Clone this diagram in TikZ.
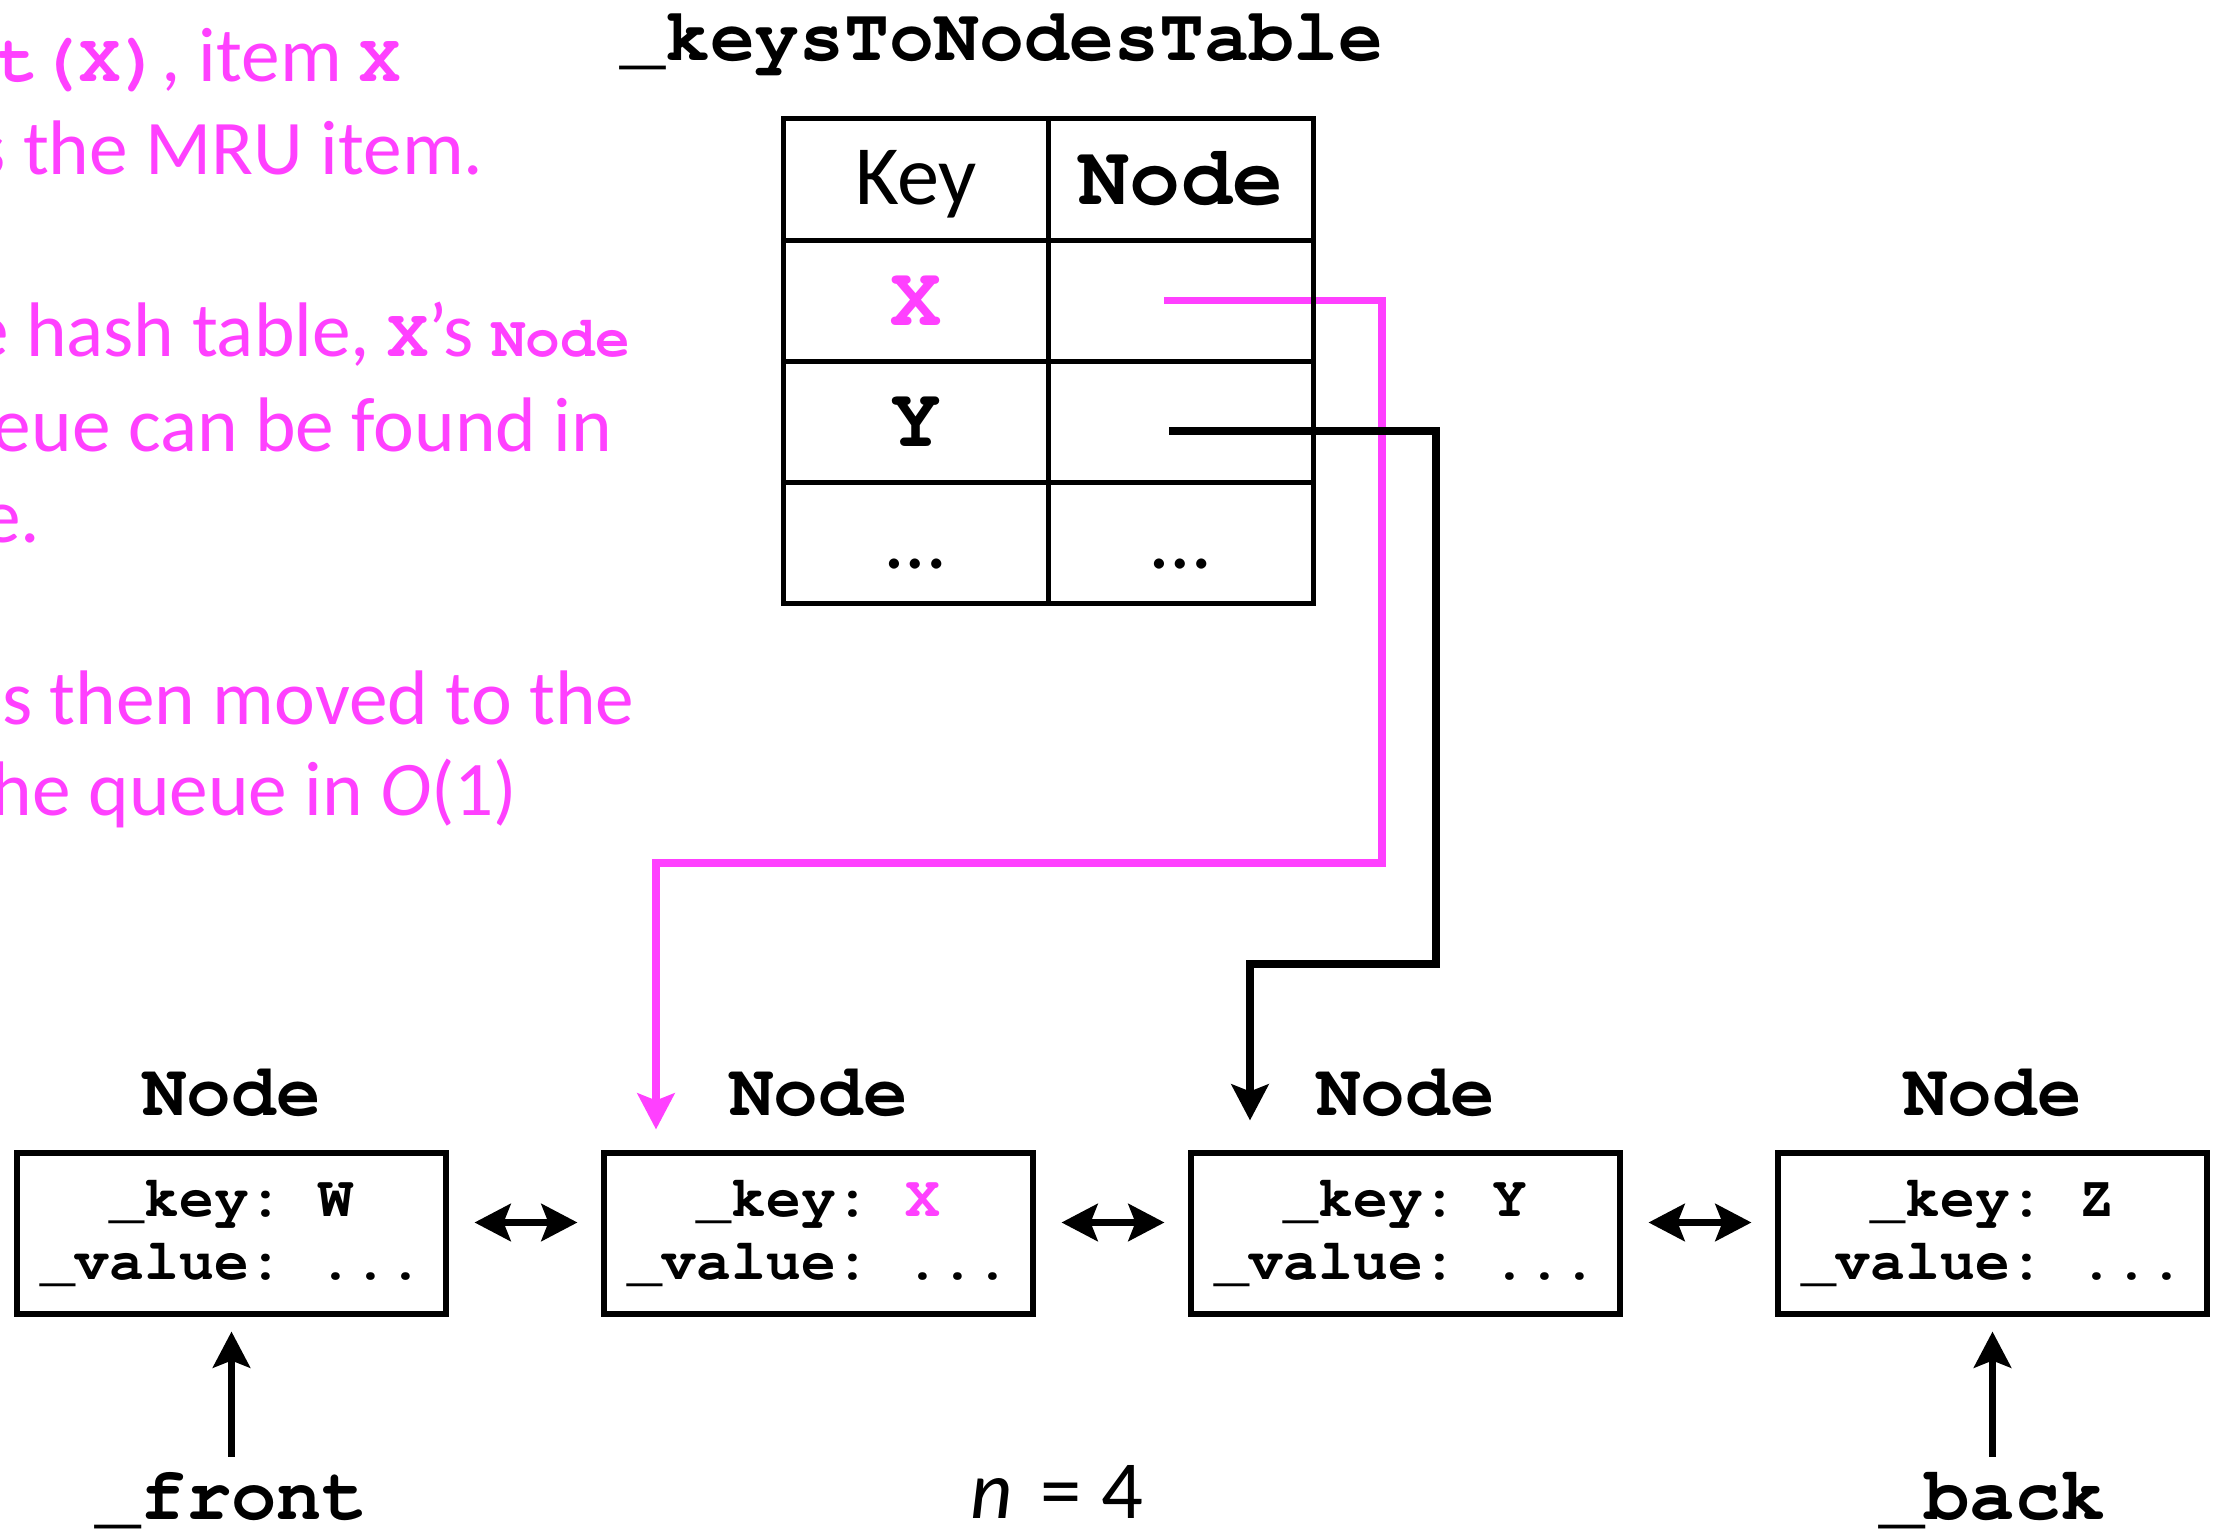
\documentclass[tikz,border=0pt]{standalone}
\usepackage[T1]{fontenc}
\usepackage{fontspec}
\setmainfont{Carlito}
\usetikzlibrary{arrows.meta,positioning,backgrounds}
\definecolor{mru}{RGB}{255,64,255}
\newcommand{\cour}{\fontencoding{T1}\fontfamily{pcr}\fontseries{b}\selectfont}
\newcommand{\code}[1]{{\fontsize{19.5}{22}\cour #1}}
\newcommand{\codesm}[1]{{\fontsize{16.5}{20}\cour #1}}

\begin{document}
\begin{tikzpicture}[
  >={Stealth[length=0.36cm,width=0.37cm,inset=0.07cm]},
  note/.style={text=mru, anchor=base east, inner sep=0, font=\fontsize{22}{26}\selectfont},
  cell/.style={draw, line width=1.4pt, minimum width=2.65cm, minimum height=1.2125cm, text height=0.5cm, text depth=0cm, inner sep=0},
  big/.style={font=\fontsize{24.2}{28}\cour},
  qbox/.style={draw, line width=1.45pt, minimum width=4.29cm, minimum height=1.61cm, align=center, inner sep=0, font=\fontsize{16.5}{17.9}\cour\frenchspacing},
  qhead/.style={inner sep=0, font=\fontsize{21.2}{24}\cour},
  qlabel/.style={anchor=base, inner sep=0, font=\fontsize{21.5}{24}\cour},
  ptr/.style={line width=2.1pt, ->},
  dbl/.style={line width=2pt, <->, shorten <=0.26cm, shorten >=0.24cm}
]
\useasboundingbox (0,0) rectangle (22.13,-15.39);

\node[note] (t1) at (4.01,-0.82) {\code{get(X)}, item \code{X}};
\node[note] (t2) at (4.84,-1.75) {is the MRU item.};
\node[note] (t3) at (6.31,-3.57) {the hash table, \code{X}’s \codesm{Node}};
\node[note] (t4) at (6.13,-4.52) {queue can be found in};
\node[note] (t5) at (0.41,-5.43) {time.};
\node[note] (t6) at (6.35,-7.25) {is then moved to the};
\node[note] (t7) at (5.18,-8.16) {the queue in \textit{O}(1)};
%Text

\node[anchor=base, inner sep=0, font=\fontsize{21.3}{24}\cour] (title) at (10.02,-0.61) {\_keysToNodesTable};
\node[cell, font=\fontsize{24}{28}\selectfont] (ckey) at (9.16,-1.795) {Key};
\node[cell, big] (cnode) at (11.81,-1.795) {Node};
\node[cell, big, text=mru] (kx) at (9.16,-3.0075) {X};
\node[cell] (nx) at (11.81,-3.0075) {};
\node[cell, big] (ky) at (9.16,-4.22) {Y};
\node[cell] (ny) at (11.81,-4.22) {};
\node[cell, font=\fontsize{24}{28}\selectfont] (kd) at (9.16,-5.4325) {\dots};
\node[cell, font=\fontsize{24}{28}\selectfont] (nd) at (11.81,-5.4325) {\dots};
%Table

\node[qbox] (n1) at (2.315,-12.335) {\_key: W\\\_value: ...};
\node[qbox] (n2) at (8.185,-12.335) {\_key: \textcolor{mru}{X}\\\_value: ...};
\node[qbox] (n3) at (14.055,-12.335) {\_key: Y\\\_value: ...};
\node[qbox] (n4) at (19.925,-12.335) {\_key: Z\\\_value: ...};
\node[qhead, above=0.33cm of n1] (h1) {Node};
\node[qhead, above=0.33cm of n2] (h2) {Node};
\node[qhead, above=0.33cm of n3] (h3) {Node};
\node[qhead, above=0.33cm of n4] (h4) {Node};
\draw[dbl] ([yshift=1.1mm]n1.east) -- ([yshift=1.1mm]n2.west);
\draw[dbl] ([yshift=1.1mm]n2.east) -- ([yshift=1.1mm]n3.west);
\draw[dbl] ([yshift=1.1mm]n3.east) -- ([yshift=1.1mm]n4.west);
%Queue

\node[qlabel] (front) at (2.315,-15.19) {\_front};
\node[qlabel] (back) at (19.925,-15.19) {\_back};
\node[anchor=base, inner sep=0, font=\fontsize{23.5}{26}\selectfont] (size) at (10.57,-15.18) {\textit{n}\hspace{0.28cm}=\hspace{0.2cm}4};
\draw[ptr, shorten <=0.14cm, shorten >=0.15cm] (front) -- (n1);
\draw[ptr, shorten <=0.14cm, shorten >=0.15cm] (back) -- (n4);
%Front and back

\begin{scope}[on background layer]
\fill[white] (0,0) rectangle (22.13,-15.39);
\coordinate (xp) at ([xshift=-1.7mm]nx.center);
\coordinate (xbend) at (13.82,-8.63);
\draw[ptr, mru] (xp) -| (xbend) -| ([xshift=-1.625cm,yshift=2.1mm]n2.north);
\coordinate (yp) at ([xshift=-1.2mm,yshift=-0.9mm]ny.center);
\coordinate (ybend) at (14.36,-9.64);
\draw[ptr] (yp) -| (ybend) -| ([xshift=-1.555cm,yshift=3mm]n3.north);
\end{scope}
%Pointers
\end{tikzpicture}
\end{document}
